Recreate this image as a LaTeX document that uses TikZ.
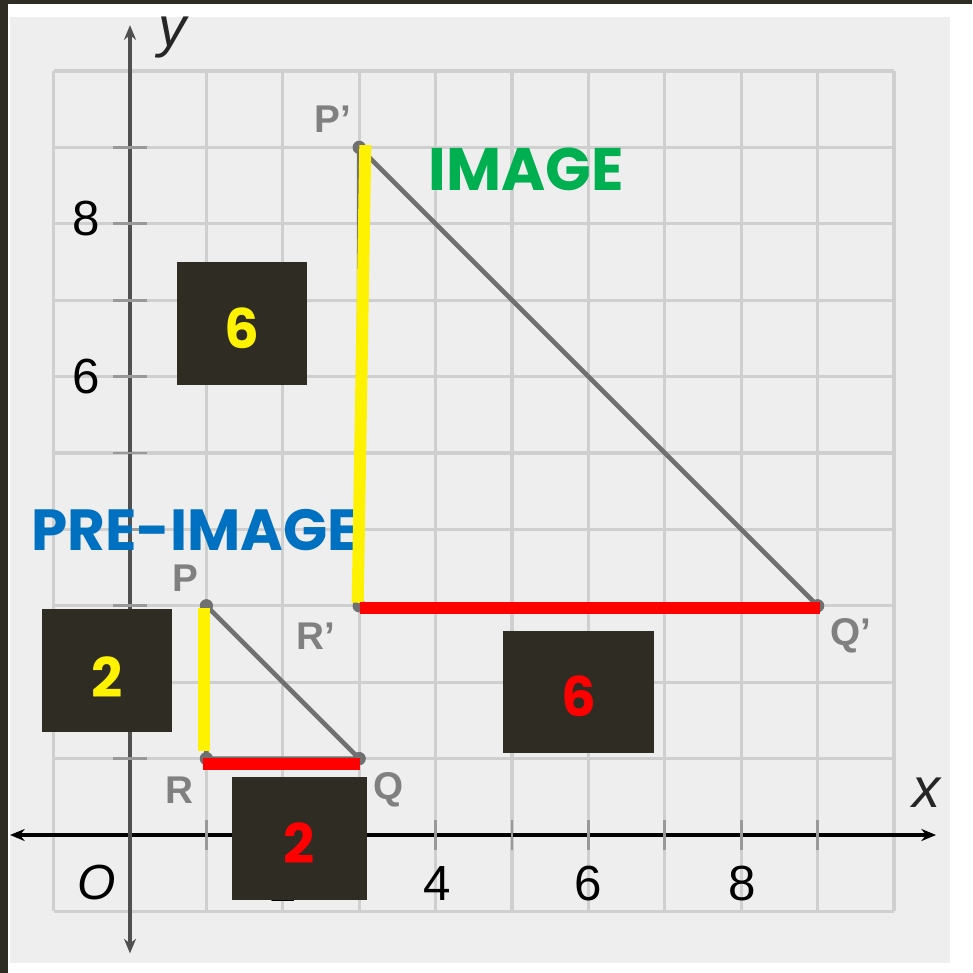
\documentclass[tikz,border=0pt]{standalone}
\usepackage{fontspec}
\setmainfont{Liberation Sans}
\newfontfamily\pop{Poppins}
\usetikzlibrary{arrows.meta}
\definecolor{darkbox}{HTML}{2F2C23}
\definecolor{imggreen}{HTML}{00B050}
\definecolor{preblue}{HTML}{0070C0}
\definecolor{gridgray}{HTML}{CFCFCF}
\definecolor{ptgray}{HTML}{808080}
\definecolor{trigray}{HTML}{707070}
\definecolor{halftone}{HTML}{EEEEEE}
\definecolor{yaxisgray}{HTML}{505050}
\begin{document}
\begin{tikzpicture}[x=0.75pt,y=-0.75pt,
  numbox/.style={fill=darkbox, draw=none, inner sep=0pt},
  boxnum/.style={font=\pop\bfseries\fontsize{41}{41}\selectfont, inner sep=0pt},
  ticklbl/.style={font=\fontsize{37}{37}\selectfont, text=black, inner sep=0pt},
  ptlbl/.style={font=\bfseries\fontsize{29}{29}\selectfont, text=ptgray, inner sep=0pt},
  axlbl/.style={font=\itshape\fontsize{42}{42}\selectfont, text=black!85, inner sep=0pt},
  bigword/.style={font=\pop\bfseries\fontsize{45}{45}\selectfont, inner sep=0pt, text depth=0pt},
  gridline/.style={draw=gridgray, line width=2.3pt},
  tickmark/.style={draw=gray!80, line width=2pt},
  tri/.style={draw=trigray, line width=3.4pt},
  vdot/.style={fill=trigray},
  seg/.style={line width=9pt}]
\useasboundingbox (0,0) rectangle (972,973);
\fill[white] (0,0) rectangle (972,973);
% dark strips
\fill[darkbox] (0,0) rectangle (972,4);
\fill[darkbox] (0,0) rectangle (8,973);
% halftone paper
\fill[halftone] (10,17) rectangle (950,963);
\begin{scope}[shift={(130,835)}, x=57.3pt, y=57.3pt]
  % grid
  \foreach \i in {-1,...,10} {
    \draw[gridline] (\i,-1) -- (\i,10);
    \draw[gridline] (-1,\i) -- (10,\i);
  }
  % axes
  \coordinate (xl) at (-1.57,0);
  \coordinate (xr) at (10.55,0);
  \coordinate (yt) at (0,10.6);
  \coordinate (yb) at (0,-1.55);
  \draw[black, line width=3pt, {Stealth[length=11pt,width=9pt]}-{Stealth[length=11pt,width=9pt]}] (xl) -- (xr);
  \draw[yaxisgray, line width=3pt, {Stealth[length=11pt,width=9pt]}-{Stealth[length=11pt,width=9pt]}] (yb) -- (yt);
  \foreach \i in {1,...,9} {
    \draw[tickmark] (\i,-0.2) -- (\i,0.2);
    \draw[tickmark] (-0.22,\i) -- (0.22,\i);
  }
  % triangles
  \coordinate (P) at (1,3);
  \coordinate (R) at (1,1);
  \coordinate (Q) at (3,1);
  \coordinate (P') at (3,9);
  \coordinate (R') at (3,3);
  \coordinate (Q') at (9,3);
  \draw[tri] (P) -- (Q) -- (R) -- cycle;
  \draw[tri] (P') -- (Q') -- (R') -- cycle;
  \foreach \v in {P,Q,R,P',Q',R'} \fill[vdot] (\v) circle (5pt);
  % highlight segment ends
  \coordinate (ya1) at (0.97,2.97);
  \coordinate (ya2) at (0.97,1.1);
  \coordinate (ra1) at (0.96,0.93);
  \coordinate (ra2) at (3.01,0.93);
  \coordinate (yb1) at (3.08,9.03);
  \coordinate (yb2) at (2.98,3.04);
  \coordinate (rb1) at (3.01,2.97);
  \coordinate (rb2) at (9.03,2.97);
\end{scope}
% tick labels
\node[ticklbl] (l8y) at (86,219) {8};
\node[ticklbl] (l6y) at (86,377) {6};
\node[ticklbl] (l2x) at (283,884) {2};
\node[ticklbl, font=\itshape\fontsize{37}{37}\selectfont] (lO) at (97,883) {O};
\node[ticklbl] (l4x) at (437,884) {4};
\node[ticklbl] (l6x) at (588,884) {6};
\node[ticklbl] (l8x) at (742,884) {8};
\node[axlbl] (xlab) at (926,793) {x};
\node[axlbl] (ylab) at (172,38) {y};
% point labels
\node[ptlbl] (lP) at (185,578) {P};
\node[ptlbl] (lR) at (179,790) {R};
\node[ptlbl] (lQ) at (389,790) {Q};
\node[ptlbl] (lP') at (333,119) {P'};
\node[ptlbl] (lR') at (316,636) {R'};
\node[ptlbl] (lQ') at (851,636) {Q'};
% words
\node[bigword, text=imggreen] (img) at (526,169) {IMAGE};
\node[bigword, text=preblue, font=\pop\bfseries\fontsize{43.5}{43.5}\selectfont] (pre) at (195,530) {PRE-IMAGE};
% coloured sides
\draw[seg, yellow] (ya1) -- (ya2);
\draw[seg, red] (ra1) -- (ra2);
\draw[seg, yellow] (yb1) -- (yb2);
\draw[seg, red] (rb1) -- (rb2);
% boxes
\node[numbox, minimum width=97.5pt, minimum height=92.25pt] (b1) at (242,323.5) {};
\node[numbox, minimum width=97.5pt, minimum height=92.25pt] (b2) at (107,670.5) {};
\node[numbox, minimum width=101.25pt, minimum height=92.25pt] (b3) at (299.5,838.5) {};
\node[numbox, minimum width=113.25pt, minimum height=91.5pt] (b4) at (578.5,692) {};
\node[boxnum, text=yellow] (n1) at ([yshift=-3.5pt]b1.center) {6};
\node[boxnum, text=yellow] (n2) at ([yshift=-5pt]b2.center) {2};
\node[boxnum, text=red] (n3) at ([yshift=-3.5pt]b3.center) {2};
\node[boxnum, text=red] (n4) at ([yshift=-3.5pt]b4.center) {6};
\end{tikzpicture}
\end{document}
